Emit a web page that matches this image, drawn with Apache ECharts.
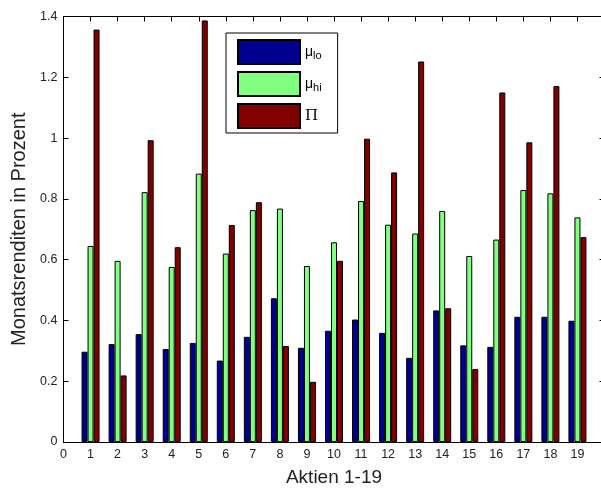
<!DOCTYPE html>
<html>
<head>
<meta charset="utf-8">
<script src="https://cdn.jsdelivr.net/npm/echarts@6/dist/echarts.min.js"></script>
<style>html,body{margin:0;padding:0;background:#fff}#c{width:601px;height:488px}</style>
</head>
<body>
<div id="c"></div>
<script>
const categories = [1,2,3,4,5,6,7,8,9,10,11,12,13,14,15,16,17,18,19];
const muLo = [0.297,0.322,0.355,0.306,0.326,0.268,0.346,0.473,0.310,0.366,0.403,0.359,0.277,0.433,0.318,0.313,0.412,0.412,0.399];
const muHi = [0.645,0.596,0.822,0.576,0.883,0.620,0.763,0.768,0.579,0.657,0.793,0.715,0.686,0.760,0.612,0.666,0.829,0.818,0.739];
const piVals = [1.357,0.219,0.993,0.641,1.387,0.714,0.789,0.316,0.198,0.596,0.998,0.887,1.252,0.440,0.240,1.150,0.986,1.171,0.674];
const xTickLabels = ['0','1','2','3','4','5','6','7','8','9','10','11','12','13','14','15','16','17','18','19'];
const yTickLabels = ['0','0.2','0.4','0.6','0.8','1','1.2','1.4'];

const chart = echarts.init(document.getElementById('c'), null, {renderer:'canvas'});
const font = 'Liberation Sans';
function pairs(vals){ return categories.map((c,i)=>[c, vals[i]]); }
const barBase = {type:'bar', barWidth:6, barGap:'0%', xAxisIndex:0, yAxisIndex:0, animation:false};
const legendNames = {mu_lo:'{m|μ}{s|lo}', mu_hi:'{m|μ}{s|hi}', Pi:'{p|Π}'};
chart.setOption({
  backgroundColor:'#fff',
  animation:false,
  grid:{left:63.5, top:16.5, width:541, height:425.5, outerBoundsMode:'none', containLabel:false},
  xAxis:[
    {type:'value', min:0, max:20, interval:1, position:'bottom',
     axisLine:{onZero:false, lineStyle:{color:'#000', width:1}},
     axisTick:{inside:true, length:5, lineStyle:{color:'#000'}},
     axisLabel:{color:'#222', fontFamily:font, fontSize:12.5, margin:6, formatter:(v)=>xTickLabels[Math.round(v)] ?? ''},
     splitLine:{show:false},
     name:'Aktien 1-19', nameLocation:'middle', nameGap:26,
     nameTextStyle:{color:'#222', fontFamily:font, fontSize:19}},
    {type:'value', min:0, max:20, interval:1, position:'top',
     axisLine:{onZero:false, lineStyle:{color:'#000', width:1}},
     axisTick:{inside:true, length:5, lineStyle:{color:'#000'}},
     axisLabel:{show:false}, splitLine:{show:false}}
  ],
  yAxis:[
    {type:'value', min:0, max:1.4, interval:0.2, position:'left',
     axisLine:{show:true, onZero:false, lineStyle:{color:'#000', width:1}},
     axisTick:{show:true, inside:true, length:5, lineStyle:{color:'#000'}},
     axisLabel:{color:'#222', fontFamily:font, fontSize:12.5, margin:6, formatter:(v)=>yTickLabels[Math.round(v/0.2)]},
     splitLine:{show:false},
     name:'Monatsrenditen in Prozent', nameLocation:'middle', nameGap:32,
     nameTextStyle:{color:'#222', fontFamily:font, fontSize:20}},
    {type:'value', min:0, max:1.4, interval:0.2, position:'right',
     axisLine:{show:true, onZero:false, lineStyle:{color:'#000', width:1}},
     axisTick:{show:true, inside:true, length:5, lineStyle:{color:'#000'}},
     axisLabel:{show:false}, splitLine:{show:false}}
  ],
  legend:{
    orient:'vertical', left:226, top:33, icon:'rect',
    padding:[6,16,4,11], itemWidth:62, itemHeight:24, itemGap:6,
    borderColor:'#000', borderWidth:1, borderRadius:0, backgroundColor:'#fff',
    selectedMode:false,
    data:['mu_lo','mu_hi','Pi'],
    formatter:(n)=>legendNames[n],
    textStyle:{color:'#000', fontFamily:font, fontSize:13,
      rich:{m:{fontSize:14, fontFamily:font}, s:{fontSize:11, fontFamily:font, padding:[7,0,0,0]}, p:{fontSize:15, fontFamily:'DejaVu Serif'}}}
  },
  series:[
    Object.assign({}, barBase, {name:'mu_lo', data:pairs(muLo), itemStyle:{color:'#00008F', borderColor:'#000', borderWidth:1}}),
    Object.assign({}, barBase, {name:'mu_hi', data:pairs(muHi), itemStyle:{color:'#80FF80', borderColor:'#000', borderWidth:1}}),
    Object.assign({}, barBase, {name:'Pi', data:pairs(piVals), itemStyle:{color:'#800000', borderColor:'#000', borderWidth:1}})
  ]
});
</script>
</body>
</html>
